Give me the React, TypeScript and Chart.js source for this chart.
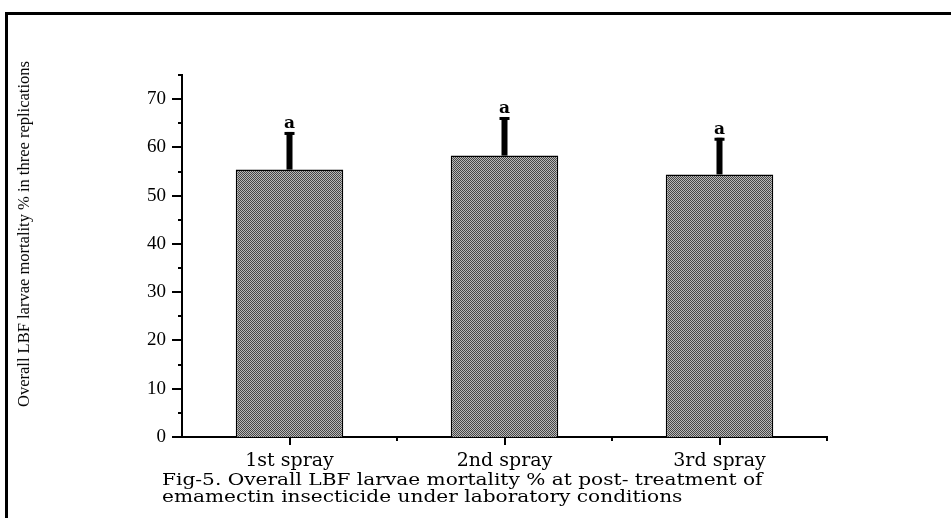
import React, { useEffect, useRef } from "react";
import { Chart, registerables } from "chart.js";

Chart.register(...registerables);

const categories = ["1st spray", "2nd spray", "3rd spray"];
const meanMortality = [55.4, 58.3, 54.4];
const upperError = [7.8, 8.0, 7.6];
const letters = ["a", "a", "a"];
const yMax = 75;
const yTitle = "Overall LBF larvae mortality % in three replications";
const captionLines = [
  "Fig-5. Overall LBF larvae mortality % at post- treatment of",
  "emamectin insecticide under laboratory conditions",
];

function makePattern(): CanvasPattern | string {
  const c = document.createElement("canvas");
  c.width = 2;
  c.height = 2;
  const g = c.getContext("2d");
  if (!g) return "#888";
  g.fillStyle = "#b8b8b8";
  g.fillRect(0, 0, 2, 2);
  g.fillStyle = "#454545";
  g.fillRect(0, 0, 1, 1);
  g.fillRect(1, 1, 1, 1);
  const p = g.createPattern(c, "repeat");
  return p || "#888";
}

const extrasPlugin = {
  id: "extras",
  afterDatasetsDraw(chart: any) {
    const ctx = chart.ctx;
    const xs = chart.scales.x;
    const ys = chart.scales.y;
    ctx.save();
    ctx.fillStyle = "#000";
    for (let i = 0; i < categories.length; i++) {
      const px = xs.getPixelForValue(i);
      const base = ys.getPixelForValue(meanMortality[i]);
      const top = ys.getPixelForValue(meanMortality[i] + upperError[i]);
      ctx.fillRect(px - 3, top, 6, base - top);
      ctx.fillRect(px - 5, top, 10, 3);
      ctx.font = 'bold 17px "DejaVu Serif"';
      ctx.textAlign = "center";
      ctx.textBaseline = "alphabetic";
      ctx.fillText(letters[i], px, top - 4);
    }
    ctx.restore();
  },
  afterDraw(chart: any) {
    const ctx = chart.ctx;
    const xs = chart.scales.x;
    const ys = chart.scales.y;
    const area = chart.chartArea;
    ctx.save();
    ctx.strokeStyle = "#000";
    ctx.lineWidth = 2;
    ctx.beginPath();
    for (let v = 0; v <= yMax; v += 5) {
      const py = Math.round(ys.getPixelForValue(v));
      const len = v % 10 === 0 ? 10 : 4;
      ctx.moveTo(area.left - len, py);
      ctx.lineTo(area.left, py);
    }
    const step = xs.getPixelForValue(1) - xs.getPixelForValue(0);
    for (let i = 0; i < categories.length; i++) {
      const px = Math.round(xs.getPixelForValue(i));
      ctx.moveTo(px, area.bottom);
      ctx.lineTo(px, area.bottom + 8);
      const bx = Math.round(xs.getPixelForValue(i) + step / 2);
      ctx.moveTo(bx, area.bottom);
      ctx.lineTo(bx, area.bottom + 4);
    }
    ctx.stroke();
    ctx.restore();
  },
};

export default function App() {
  const canvasRef = useRef<HTMLCanvasElement | null>(null);

  useEffect(() => {
    const canvas = canvasRef.current;
    if (!canvas) return;
    const pattern = makePattern();
    const chart = new Chart(canvas, {
      type: "bar",
      data: {
        labels: categories,
        datasets: [
          {
            data: meanMortality,
            backgroundColor: pattern as any,
            borderColor: "#000",
            borderWidth: 1.5,
            categoryPercentage: 1,
            barPercentage: 0.5,
          },
        ],
      },
      options: {
        responsive: false,
        devicePixelRatio: 1,
        animation: false,
        layout: { padding: { left: 0, top: 75, right: 124, bottom: 0 } },
        plugins: {
          legend: { display: false },
          tooltip: { enabled: false },
          title: { display: false },
        },
        scales: {
          x: {
            type: "category",
            offset: true,
            grid: { display: false, drawTicks: false },
            border: { display: true, color: "#000", width: 2 },
            ticks: {
              color: "#000",
              padding: 13,
              maxRotation: 0,
              font: { family: '"DejaVu Serif"', size: 19 },
            },
            afterFit: (s: any) => {
              s.height = 81;
            },
          },
          y: {
            type: "linear",
            min: 0,
            max: yMax,
            grid: { display: false, drawTicks: false },
            border: { display: true, color: "#000", width: 2 },
            ticks: {
              stepSize: 10,
              includeBounds: false,
              color: "#000",
              padding: 16,
              font: { family: '"Liberation Serif", "Times New Roman", serif', size: 19 },
            },
            afterFit: (s: any) => {
              s.width = 182;
            },
          },
        },
      },
      plugins: [extrasPlugin],
    });
    return () => chart.destroy();
  }, []);

  return (
    <div
      style={{
        position: "fixed",
        left: 0,
        top: 0,
        width: 951,
        height: 518,
        overflow: "hidden",
        background: "#fff",
      }}
    >
      <div
        style={{
          position: "absolute",
          left: 5,
          top: 12,
          width: 1000,
          height: 600,
          borderTop: "3px solid #000",
          borderLeft: "3px solid #000",
        }}
      />
      <canvas
        ref={canvasRef}
        width={951}
        height={518}
        style={{ position: "absolute", left: 0, top: 0, width: 951, height: 518 }}
      />
      <div
        style={{
          position: "absolute",
          left: 24,
          top: 234,
          transform: "translate(-50%, -50%) rotate(-90deg)",
          whiteSpace: "nowrap",
          fontFamily: '"Liberation Serif"',
          fontSize: 16.5,
          lineHeight: "16px",
          color: "#000",
        }}
      >
        {yTitle}
      </div>
      <div
        style={{
          position: "absolute",
          left: 162,
          top: 471,
          fontFamily: '"DejaVu Serif"',
          fontSize: 17.5,
          lineHeight: "17px",
          color: "#000",
          whiteSpace: "nowrap",
          transform: "scaleX(1.15)",
          transformOrigin: "0 0",
        }}
      >
        {captionLines.map((l, i) => (
          <div key={i}>{l}</div>
        ))}
      </div>
    </div>
  );
}
